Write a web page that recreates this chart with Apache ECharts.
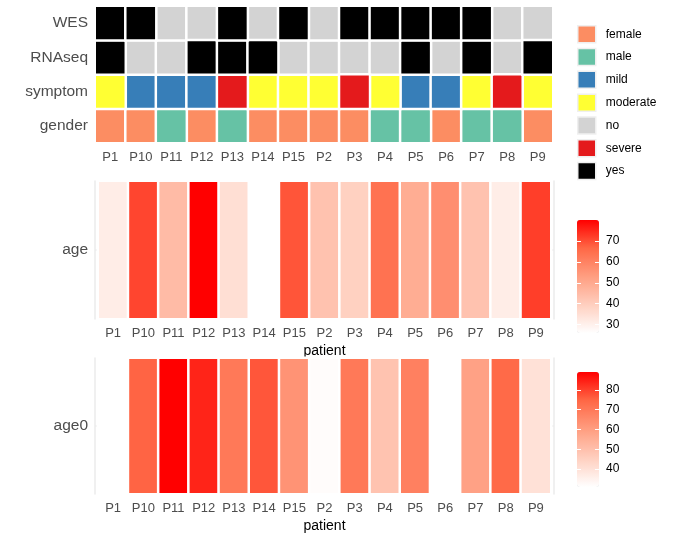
<!DOCTYPE html>
<html><head><meta charset="utf-8">
<script src="https://cdn.jsdelivr.net/npm/echarts@6/dist/echarts.min.js"></script>
<style>html,body{margin:0;padding:0;background:#fff}#c{width:674px;height:541px}</style>
</head><body><div id="c"></div>
<script>
const patients = ['P1','P10','P11','P12','P13','P14','P15','P2','P3','P4','P5','P6','P7','P8','P9'];
const rowNames = ['gender','symptom','RNAseq','WES'];
const wes     = ['yes','yes','no','no','yes','no','yes','no','yes','yes','yes','yes','yes','no','no'];
const rnaseq  = ['yes','no','no','yes','yes','yes','no','no','no','no','yes','no','yes','no','yes'];
const symptom = ['moderate','mild','mild','mild','severe','moderate','moderate','moderate','severe','moderate','mild','mild','moderate','severe','moderate'];
const gender  = ['female','female','male','female','male','female','female','female','female','male','male','female','male','male','female'];
const categories = ['female','male','mild','moderate','no','severe','yes'];
const categoryColors = ['#FC8D62','#66C2A5','#377EB8','#FFFF33','#D3D3D3','#E41A1C','#000000'];
const ageValues  = [31,71,45,80,35,26,69,43,39,64,49,57,43,31,72];
const age0Values = [31,75,89,84,70,77,63,32,70,49,68,31,59,74,40];
const ageRange = [26,80];
const age0Range = [31,89];
const ageTicks = [30,40,50,60,70];
const age0Ticks = [40,50,60,70,80];
const gradient = ['#FFFFFF','#FFCFBF','#FF9E81','#FF6846','#FF0000'];

const FONT = 'Liberation Sans, Arial, sans-serif';
const rows = {gender: gender, symptom: symptom, RNAseq: rnaseq, WES: wes};

const series = [];
categories.forEach((cat, ci) => {
  const data = [];
  rowNames.forEach((rn, ri) => {
    rows[rn].forEach((v, pi) => { if (v === cat) data.push([pi, ri, 1]); });
  });
  series.push({
    name: cat, type: 'heatmap', xAxisIndex: 0, yAxisIndex: 0, data: data,
    itemStyle: {color: categoryColors[ci], borderColor: '#fff', borderWidth: 2.5},
    emphasis: {disabled: true}
  });
});
const ageIdx = series.length;
series.push({
  name: 'age', type: 'heatmap', xAxisIndex: 1, yAxisIndex: 1,
  data: ageValues.map((v, i) => [i, 0, v]),
  itemStyle: {borderColor: '#fff', borderWidth: 2.5}, emphasis: {disabled: true}
});
const age0Idx = series.length;
series.push({
  name: 'age0', type: 'heatmap', xAxisIndex: 2, yAxisIndex: 3,
  data: age0Values.map((v, i) => [i, 0, v]),
  itemStyle: {borderColor: '#fff', borderWidth: 2.5}, emphasis: {disabled: true}
});

const xLab = {fontSize: 13, color: '#4D4D4D', fontFamily: FONT, margin: 8};
const yLab = {fontSize: 15.5, color: '#4D4D4D', fontFamily: FONT, margin: 7};
const frameLine = {show: true, lineStyle: {color: '#EBEBEB', width: 1.5}};
const frameTick = {show: true, inside: true, length: 3, alignWithLabel: true, lineStyle: {color: '#EBEBEB', width: 1.5}};

function xCat(gridIndex, withName) {
  const a = {type: 'category', gridIndex: gridIndex, data: patients,
    axisLine: {show: false}, axisTick: {show: false}, axisLabel: xLab, splitLine: {show: false}};
  if (withName) {
    a.name = 'patient'; a.nameLocation = 'middle'; a.nameGap = 25;
    a.nameTextStyle = {fontSize: 14, color: '#000', fontFamily: FONT};
  }
  return a;
}
function yCat(gridIndex, names, pos, framed) {
  return {type: 'category', gridIndex: gridIndex, data: names, position: pos,
    offset: framed ? 3 : 0,
    axisLine: framed ? frameLine : {show: false},
    axisTick: framed ? frameTick : {show: false},
    axisLabel: pos === 'left' ? yLab : {show: false}, splitLine: {show: false}};
}
function barAxis(gridIndex, range, ticks, pos) {
  return {type: 'value', gridIndex: gridIndex, min: range[0], max: range[1], position: pos, z: 10,
    axisLine: {show: false}, splitLine: {show: false},
    axisTick: {show: true, inside: true, length: 4, customValues: ticks, lineStyle: {color: '#fff', width: 1}},
    axisLabel: pos === 'right' ? {show: true, customValues: ticks, fontSize: 12, color: '#000', fontFamily: FONT, margin: 7} : {show: false}};
}

const option = {
  animation: false,
  textStyle: {fontFamily: FONT},
  grid: [
    {left: 95, width: 458, top: 6, height: 137},
    {left: 98, width: 453, top: 181, height: 138},
    {left: 98, width: 453, top: 358, height: 136},
    {left: 577, width: 22, top: 220, height: 113},
    {left: 577, width: 22, top: 372, height: 115}
  ],
  xAxis: [
    xCat(0, false), xCat(1, true), xCat(2, true),
    {type: 'value', gridIndex: 3, show: false, min: 0, max: 1},
    {type: 'value', gridIndex: 4, show: false, min: 0, max: 1}
  ],
  yAxis: [
    yCat(0, rowNames, 'left', false),
    yCat(1, ['age'], 'left', true),
    yCat(1, ['age'], 'right', true),
    yCat(2, ['age0'], 'left', true),
    yCat(2, ['age0'], 'right', true),
    barAxis(3, ageRange, ageTicks, 'left'),
    barAxis(3, ageRange, ageTicks, 'right'),
    barAxis(4, age0Range, age0Ticks, 'left'),
    barAxis(4, age0Range, age0Ticks, 'right')
  ],
  legend: {
    orient: 'vertical', left: 577, top: 25, padding: 0,
    data: categories, icon: 'rect', itemWidth: 18, itemHeight: 17, itemGap: 4.3,
    itemStyle: {borderColor: '#EFEFEF', borderWidth: 1.5},
    textStyle: {fontSize: 12, color: '#000', fontFamily: FONT, padding: [0, 0, 0, 5]},
    selectedMode: false
  },
  visualMap: [
    {type: 'continuous', seriesIndex: ageIdx, dimension: 2, min: ageRange[0], max: ageRange[1],
     inRange: {color: gradient}, left: 577, top: 220, itemWidth: 22, itemHeight: 113,
     padding: 0, calculable: false, hoverLink: false, z: 2},
    {type: 'continuous', seriesIndex: age0Idx, dimension: 2, min: age0Range[0], max: age0Range[1],
     inRange: {color: gradient}, left: 577, top: 372, itemWidth: 22, itemHeight: 115,
     padding: 0, calculable: false, hoverLink: false, z: 2}
  ],
  series: series
};
const chart = echarts.init(document.getElementById('c'), null, {renderer: 'canvas'});
chart.setOption(option);
</script></body></html>
